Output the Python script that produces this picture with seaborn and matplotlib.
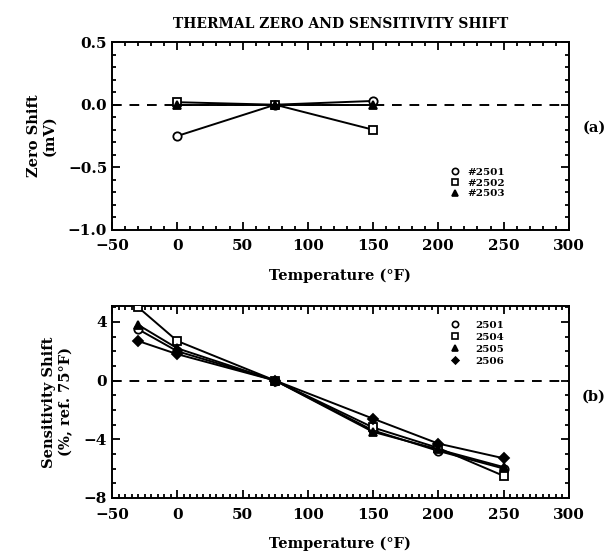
import matplotlib
matplotlib.use("Agg")
import matplotlib.pyplot as plt
from matplotlib.lines import Line2D
from matplotlib.ticker import MultipleLocator
import pandas as pd
import seaborn as sns

# (a) zero shift, mV
temp_a = [0, 75, 150]
zero_2501 = [-0.25, 0.0, 0.03]
zero_2502 = [0.02, 0.0, -0.20]
zero_2503 = [0.0, 0.0, 0.0]
labels_a = ["#2501", "#2502", "#2503"]

# (b) sensitivity shift, % ref. 75F
temp_b = [-30, 0, 75, 150, 200, 250]
sens_2501 = [3.5, 2.0, 0.0, -3.4, -4.8, -6.0]
sens_2504 = [5.0, 2.7, 0.0, -3.2, -4.6, -6.5]
sens_2505 = [3.8, 2.2, 0.0, -3.5, -4.7, -5.9]
sens_2506 = [2.7, 1.8, 0.0, -2.6, -4.3, -5.3]
labels_b = ["2501", "2504", "2505", "2506"]

sns.set_style("ticks")
plt.rcParams['font.family'] = ['DejaVu Serif']
plt.rcParams['font.weight'] = 'bold'
plt.rcParams['axes.labelweight'] = 'bold'
plt.rcParams['axes.titleweight'] = 'bold'
for k in ['text.color', 'axes.labelcolor', 'xtick.color', 'ytick.color', 'axes.edgecolor']:
    plt.rcParams[k] = 'black'

markers = ['o', 's', '^', 'D']
fills = ['white', 'white', 'black', 'black']
sizes = [6, 5.5, 6, 5]


def style_axes(ax, xminor, ymajor, yminor):
    ax.axhline(0, color='black', ls=(0, (5, 4)), lw=1.4, zorder=1)
    ax.set_xlim(-50, 300)
    ax.xaxis.set_major_locator(MultipleLocator(50))
    ax.xaxis.set_minor_locator(MultipleLocator(xminor))
    ax.yaxis.set_major_locator(MultipleLocator(ymajor))
    ax.yaxis.set_minor_locator(MultipleLocator(yminor))
    ax.tick_params(which='both', direction='in', top=True, right=True, width=1.3)
    ax.tick_params(which='major', length=6, labelsize=11)
    ax.tick_params(axis='x', which='major', pad=7)
    ax.tick_params(which='minor', length=3)
    for s in ax.spines.values():
        s.set_linewidth(1.4)
    ax.set_xlabel("Temperature (°F)", fontsize=10.5, labelpad=11)


def draw(ax, x, series, labels):
    handles = []
    for i, (ys, lab) in enumerate(zip(series, labels)):
        df = pd.DataFrame({'t': x, 'v': ys})
        sns.lineplot(data=df, x='t', y='v', ax=ax, color='black', lw=1.4,
                     marker=markers[i], markersize=sizes[i],
                     markerfacecolor=fills[i], markeredgecolor='black',
                     markeredgewidth=1.3, zorder=3)
        handles.append(Line2D([], [], ls='none', marker=markers[i], markersize=sizes[i] - 1.5,
                              markerfacecolor=fills[i], markeredgecolor='black',
                              markeredgewidth=1.2, label=lab))
    return handles


fig = plt.figure(figsize=(6.09, 5.55), dpi=100)
ax1 = fig.add_axes([0.184, 0.586, 0.750, 0.338])
ax2 = fig.add_axes([0.184, 0.103, 0.750, 0.346])

h1 = draw(ax1, temp_a, [zero_2501, zero_2502, zero_2503], labels_a)
style_axes(ax1, 10, 0.5, 0.1)
ax1.set_ylim(-1.0, 0.5)
ax1.set_yticklabels([f"{v:.1f}".replace('-', '\u2212') for v in ax1.get_yticks()])
ax1.set_ylabel("Zero Shift\n(mV)", fontsize=10.5, labelpad=8)
ax1.legend(handles=h1, frameon=False, loc='upper left', bbox_to_anchor=(0.73, 0.36),
           fontsize=7.5, handlelength=0.8, handletextpad=0.8, labelspacing=0.15,
           borderpad=0)
ax1.set_title("THERMAL ZERO AND SENSITIVITY SHIFT", fontsize=10, pad=10)
fig.text(0.975, 0.77, "(a)", fontsize=10.5, ha='center', va='center')

h2 = draw(ax2, temp_b, [sens_2501, sens_2504, sens_2505, sens_2506], labels_b)
style_axes(ax2, 5, 4, 1)
ax2.set_ylim(-8, 5.1)
ax2.set_ylabel("Sensitivity Shift\n(%, ref. 75°F)", fontsize=10.5, labelpad=8)
ax2.legend(handles=h2, frameon=False, loc='upper left', bbox_to_anchor=(0.73, 0.95),
           fontsize=7.5, handlelength=0.8, handletextpad=1.6, labelspacing=0.25,
           borderpad=0)
fig.text(0.975, 0.285, "(b)", fontsize=10.5, ha='center', va='center')

fig.savefig("out.png", dpi=100)
